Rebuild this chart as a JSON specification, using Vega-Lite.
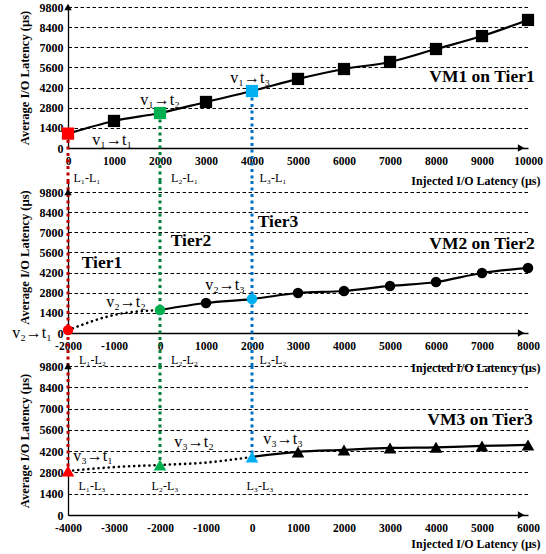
{
  "$schema": "https://vega.github.io/schema/vega-lite/v6.json",
  "padding": {"left": 12, "right": 2, "top": 1, "bottom": 2},
  "bounds": "flush",
  "spacing": 33,
  "resolve": {"scale": {"x": "independent", "y": "independent"}},
  "config": {
    "view": {"stroke": null},
    "font": "Liberation Serif",
    "axis": {"domainColor": "#000000", "labelColor": "#000000", "titleColor": "#000000", "labelFont": "Liberation Serif", "titleFont": "Liberation Serif"},
    "axisX": {"ticks": false, "grid": false, "domainWidth": 1.3, "labelFontWeight": "bold", "labelFontSize": 11.5, "labelPadding": 7, "labelFlush": false, "labelOverlap": false, "labelExpr": "datum.value + ''", "titleFontWeight": "bold", "titleFontSize": 12, "titleAnchor": "end", "titleAlign": "right", "titleX": 472, "titleBaseline": "middle"},
    "axisY": {"ticks": false, "grid": true, "gridColor": "#000000", "gridDash": [3.5, 2.5], "gridWidth": 1, "gridOpacity": 1, "domainWidth": 1.3, "labelFontWeight": "bold", "labelFontSize": 12, "labelPadding": 5, "titleFontWeight": "bold", "titleFontSize": 12.5, "titlePadding": 8}
  },
  "datasets": {
    "pts1": [
      {"x": 0, "y": 1000, "t": "t1"}, {"x": 1000, "y": 1880, "t": "none"}, {"x": 2000, "y": 2430, "t": "t2"},
      {"x": 3000, "y": 3200, "t": "none"}, {"x": 4000, "y": 3960, "t": "t3"}, {"x": 5000, "y": 4800, "t": "none"},
      {"x": 6000, "y": 5490, "t": "none"}, {"x": 7000, "y": 5980, "t": "none"}, {"x": 8000, "y": 6880, "t": "none"},
      {"x": 9000, "y": 7780, "t": "none"}, {"x": 10000, "y": 8900, "t": "none"}
    ],
    "pts2": [
      {"x": -2000, "y": 200, "t": "t1"}, {"x": 0, "y": 1600, "t": "t2"}, {"x": 1000, "y": 2085, "t": "none"},
      {"x": 2000, "y": 2360, "t": "t3"}, {"x": 3000, "y": 2780, "t": "none"}, {"x": 4000, "y": 2920, "t": "none"},
      {"x": 5000, "y": 3270, "t": "none"}, {"x": 6000, "y": 3545, "t": "none"}, {"x": 7000, "y": 4170, "t": "none"},
      {"x": 8000, "y": 4520, "t": "none"}
    ],
    "pts3": [
      {"x": -4000, "y": 2900, "t": "t1"}, {"x": -2000, "y": 3290, "t": "t2"}, {"x": 0, "y": 3820, "t": "t3"},
      {"x": 1000, "y": 4150, "t": "none"}, {"x": 2000, "y": 4280, "t": "none"}, {"x": 3000, "y": 4410, "t": "none"},
      {"x": 4000, "y": 4450, "t": "none"}, {"x": 5000, "y": 4540, "t": "none"}, {"x": 6000, "y": 4610, "t": "none"}
    ],
    "dot2": [{"x": -2000, "y": 200}, {"x": -1000, "y": 1250}, {"x": 0, "y": 1600}],
    "dot3": [{"x": -4000, "y": 2900}, {"x": -3000, "y": 3150}, {"x": -2000, "y": 3290}, {"x": -1000, "y": 3450}, {"x": 0, "y": 3820}],
    "rules1": [
      {"x": 0, "y": 1000, "y2": -2300, "t": "t1"}, {"x": 2000, "y": 2430, "y2": -2300, "t": "t2"}, {"x": 4000, "y": 3960, "y2": -2300, "t": "t3"}
    ],
    "rules2": [
      {"x": -2000, "y": 10565, "y2": -2300, "t": "t1"}, {"x": 0, "y": 10565, "y2": -2300, "t": "t2"}, {"x": 2000, "y": 10565, "y2": -2300, "t": "t3"}
    ],
    "rules3": [
      {"x": -4000, "y": 9800, "y2": 2900, "t": "t1"}, {"x": -2000, "y": 9800, "y2": 3290, "t": "t2"}, {"x": 0, "y": 9800, "y2": 3820, "t": "t3"}
    ],
    "arrows1": [{"x": 9850, "y": 0, "dir": "right"}, {"x": 0, "y": 9800, "dir": "up"}],
    "arrows2": [{"x": 7850, "y": 0, "dir": "right"}, {"x": -2000, "y": 9800, "dir": "up"}],
    "arrows3": [{"x": 5850, "y": 0, "dir": "right"}, {"x": -4000, "y": 9800, "dir": "up"}],
    "notes1": [
      {"x": 960, "y": 560, "label": "v₁→t₁", "kind": "a"},
      {"x": 2000, "y": 3340, "label": "v₁→t₂", "kind": "a"},
      {"x": 3960, "y": 4870, "label": "v₁→t₃", "kind": "a"},
      {"x": 9000, "y": 4940, "label": "VM1 on Tier1", "kind": "b"},
      {"x": 413, "y": -2085, "label": "L₁-L₁", "kind": "l"},
      {"x": 2533, "y": -2085, "label": "L₂-L₁", "kind": "l"},
      {"x": 4457, "y": -2085, "label": "L₃-L₁", "kind": "l"}
    ],
    "notes2": [
      {"x": -2350, "y": 30, "label": "v₂→t₁", "kind": "ar"},
      {"x": -1261, "y": 4865, "label": "Tier1", "kind": "b"},
      {"x": 674, "y": 6394, "label": "Tier2", "kind": "b"},
      {"x": 2565, "y": 7715, "label": "Tier3", "kind": "b"},
      {"x": -739, "y": 2155, "label": "v₂→t₂", "kind": "a"},
      {"x": 1413, "y": 3336, "label": "v₂→t₃", "kind": "a"},
      {"x": 7000, "y": 6186, "label": "VM2 on Tier2", "kind": "b"},
      {"x": -1467, "y": -1877, "label": "L₁-L₂", "kind": "l"},
      {"x": 533, "y": -1877, "label": "L₂-L₂", "kind": "l"},
      {"x": 2457, "y": -1877, "label": "L₃-L₂", "kind": "l"}
    ],
    "notes3": [
      {"x": -3457, "y": 3880, "label": "v₃→t₁", "kind": "a"},
      {"x": -1261, "y": 4800, "label": "v₃→t₂", "kind": "a"},
      {"x": 674, "y": 5000, "label": "v₃→t₃", "kind": "a"},
      {"x": 4957, "y": 6250, "label": "VM3 on Tier3", "kind": "b"},
      {"x": -3478, "y": 1908, "label": "L₁-L₃", "kind": "l"},
      {"x": -1891, "y": 1908, "label": "L₂-L₃", "kind": "l"},
      {"x": 174, "y": 1908, "label": "L₃-L₃", "kind": "l"}
    ]
  },
  "vconcat": [
    {
      "width": 460,
      "height": 141,
      "encoding": {
        "x": {"field": "x", "type": "quantitative", "scale": {"domain": [0, 10000], "nice": false, "zero": false},
              "axis": {"values": [0, 1000, 2000, 3000, 4000, 5000, 6000, 7000, 8000, 9000, 10000], "title": "Injected I/O Latency (µs)", "titleY": 32}},
        "y": {"field": "y", "type": "quantitative", "scale": {"domain": [0, 9800], "nice": false},
              "axis": {"values": [0, 1400, 2800, 4200, 5600, 7000, 8400, 9800], "format": "d", "title": "Average I/O Latency (µs)"}}
      },
      "layer": [
        {"data": {"name": "rules1"}, "mark": {"type": "rule", "strokeDash": [3, 3.5], "strokeWidth": 3, "clip": false},
         "encoding": {"y2": {"field": "y2"}, "stroke": {"field": "t", "type": "nominal", "scale": {"domain": ["t1", "t2", "t3"], "range": ["#c00000", "#00803c", "#0070c0"]}, "legend": null}}},
        {"data": {"name": "pts1"}, "mark": {"type": "line", "color": "#000000", "strokeWidth": 2.2, "interpolate": "monotone", "clip": false}, "encoding": {}},
        {"data": {"name": "pts1"}, "mark": {"type": "point", "shape": "square", "filled": true, "size": 150, "opacity": 1, "clip": false},
         "encoding": {"fill": {"field": "t", "type": "nominal", "scale": {"domain": ["t1", "t2", "t3", "none"], "range": ["#ff0000", "#00b050", "#00b0f0", "#000000"]}, "legend": null}}},
        {"data": {"name": "arrows1"}, "mark": {"type": "point", "filled": true, "size": 55, "color": "#000000", "opacity": 1, "clip": false},
         "encoding": {"shape": {"field": "dir", "type": "nominal", "scale": {"domain": ["right", "up"], "range": ["triangle-right", "triangle-up"]}, "legend": null}}},
        {"data": {"name": "notes1"}, "transform": [{"filter": "datum.kind === 'a'"}], "mark": {"type": "text", "fontSize": 16, "font": "Liberation Serif", "color": "#000000", "clip": false}, "encoding": {"text": {"field": "label"}}},
        {"data": {"name": "notes1"}, "transform": [{"filter": "datum.kind === 'b'"}], "mark": {"type": "text", "fontSize": 17.5, "fontWeight": "bold", "font": "Liberation Serif", "color": "#000000", "clip": false}, "encoding": {"text": {"field": "label"}}},
        {"data": {"name": "notes1"}, "transform": [{"filter": "datum.kind === 'l'"}], "mark": {"type": "text", "fontSize": 12, "font": "Liberation Serif", "color": "#000000", "clip": false}, "encoding": {"text": {"field": "label"}}}
      ]
    },
    {
      "width": 460,
      "height": 152,
      "encoding": {
        "x": {"field": "x", "type": "quantitative", "scale": {"domain": [-2000, 8000], "nice": false, "zero": false},
              "axis": {"values": [-2000, -1000, 0, 1000, 2000, 3000, 4000, 5000, 6000, 7000, 8000], "title": "Injected I/O Latency (µs)", "titleY": 34}},
        "y": {"field": "y", "type": "quantitative", "scale": {"domain": [0, 10565], "nice": false},
              "axis": {"values": [0, 1400, 2800, 4200, 5600, 7000, 8400, 9800], "format": "d", "title": "Average I/O Latency (µs)"}}
      },
      "layer": [
        {"data": {"name": "rules2"}, "mark": {"type": "rule", "strokeDash": [3, 3.5], "strokeWidth": 3, "clip": false},
         "encoding": {"y2": {"field": "y2"}, "stroke": {"field": "t", "type": "nominal", "scale": {"domain": ["t1", "t2", "t3"], "range": ["#c00000", "#00803c", "#0070c0"]}, "legend": null}}},
        {"data": {"name": "pts2"}, "transform": [{"filter": "datum.x >= 0"}], "mark": {"type": "line", "color": "#000000", "strokeWidth": 2.2, "interpolate": "monotone", "clip": false}, "encoding": {}},
        {"data": {"name": "dot2"}, "mark": {"type": "line", "color": "#000000", "strokeWidth": 2.6, "strokeDash": [0.1, 5], "strokeCap": "round", "interpolate": "monotone", "clip": false}, "encoding": {}},
        {"data": {"name": "pts2"}, "mark": {"type": "point", "shape": "circle", "filled": true, "size": 110, "opacity": 1, "clip": false},
         "encoding": {"fill": {"field": "t", "type": "nominal", "scale": {"domain": ["t1", "t2", "t3", "none"], "range": ["#ff0000", "#00b050", "#00b0f0", "#000000"]}, "legend": null}}},
        {"data": {"name": "arrows2"}, "mark": {"type": "point", "filled": true, "size": 55, "color": "#000000", "opacity": 1, "clip": false},
         "encoding": {"shape": {"field": "dir", "type": "nominal", "scale": {"domain": ["right", "up"], "range": ["triangle-right", "triangle-up"]}, "legend": null}}},
        {"data": {"name": "notes2"}, "transform": [{"filter": "datum.kind === 'a'"}], "mark": {"type": "text", "fontSize": 16, "font": "Liberation Serif", "color": "#000000", "clip": false}, "encoding": {"text": {"field": "label"}}},
        {"data": {"name": "notes2"}, "transform": [{"filter": "datum.kind === 'ar'"}], "mark": {"type": "text", "fontSize": 16, "align": "right", "font": "Liberation Serif", "color": "#000000", "clip": false}, "encoding": {"text": {"field": "label"}}},
        {"data": {"name": "notes2"}, "transform": [{"filter": "datum.kind === 'b'"}], "mark": {"type": "text", "fontSize": 17.5, "fontWeight": "bold", "font": "Liberation Serif", "color": "#000000", "clip": false}, "encoding": {"text": {"field": "label"}}},
        {"data": {"name": "notes2"}, "transform": [{"filter": "datum.kind === 'l'"}], "mark": {"type": "text", "fontSize": 12, "font": "Liberation Serif", "color": "#000000", "clip": false}, "encoding": {"text": {"field": "label"}}}
      ]
    },
    {
      "width": 460,
      "height": 149,
      "encoding": {
        "x": {"field": "x", "type": "quantitative", "scale": {"domain": [-4000, 6000], "nice": false, "zero": false},
              "axis": {"values": [-4000, -3000, -2000, -1000, 0, 1000, 2000, 3000, 4000, 5000, 6000], "title": "Injected I/O Latency (µs)", "titleY": 28}},
        "y": {"field": "y", "type": "quantitative", "scale": {"domain": [0, 9800], "nice": false},
              "axis": {"values": [0, 1400, 2800, 4200, 5600, 7000, 8400, 9800], "format": "d", "title": "Average I/O Latency (µs)"}}
      },
      "layer": [
        {"data": {"name": "rules3"}, "mark": {"type": "rule", "strokeDash": [3, 3.5], "strokeWidth": 3, "clip": false},
         "encoding": {"y2": {"field": "y2"}, "stroke": {"field": "t", "type": "nominal", "scale": {"domain": ["t1", "t2", "t3"], "range": ["#c00000", "#00803c", "#0070c0"]}, "legend": null}}},
        {"data": {"name": "pts3"}, "transform": [{"filter": "datum.x >= 0"}], "mark": {"type": "line", "color": "#000000", "strokeWidth": 2.2, "interpolate": "monotone", "clip": false}, "encoding": {}},
        {"data": {"name": "dot3"}, "mark": {"type": "line", "color": "#000000", "strokeWidth": 2.6, "strokeDash": [0.1, 5], "strokeCap": "round", "interpolate": "monotone", "clip": false}, "encoding": {}},
        {"data": {"name": "pts3"}, "mark": {"type": "point", "shape": "triangle-up", "filled": true, "size": 160, "opacity": 1, "clip": false},
         "encoding": {"fill": {"field": "t", "type": "nominal", "scale": {"domain": ["t1", "t2", "t3", "none"], "range": ["#ff0000", "#00a050", "#00b0f0", "#000000"]}, "legend": null}}},
        {"data": {"name": "arrows3"}, "mark": {"type": "point", "filled": true, "size": 55, "color": "#000000", "opacity": 1, "clip": false},
         "encoding": {"shape": {"field": "dir", "type": "nominal", "scale": {"domain": ["right", "up"], "range": ["triangle-right", "triangle-up"]}, "legend": null}}},
        {"data": {"name": "notes3"}, "transform": [{"filter": "datum.kind === 'a'"}], "mark": {"type": "text", "fontSize": 16, "font": "Liberation Serif", "color": "#000000", "clip": false}, "encoding": {"text": {"field": "label"}}},
        {"data": {"name": "notes3"}, "transform": [{"filter": "datum.kind === 'b'"}], "mark": {"type": "text", "fontSize": 17.5, "fontWeight": "bold", "font": "Liberation Serif", "color": "#000000", "clip": false}, "encoding": {"text": {"field": "label"}}},
        {"data": {"name": "notes3"}, "transform": [{"filter": "datum.kind === 'l'"}], "mark": {"type": "text", "fontSize": 12, "font": "Liberation Serif", "color": "#000000", "clip": false}, "encoding": {"text": {"field": "label"}}}
      ]
    }
  ]
}
